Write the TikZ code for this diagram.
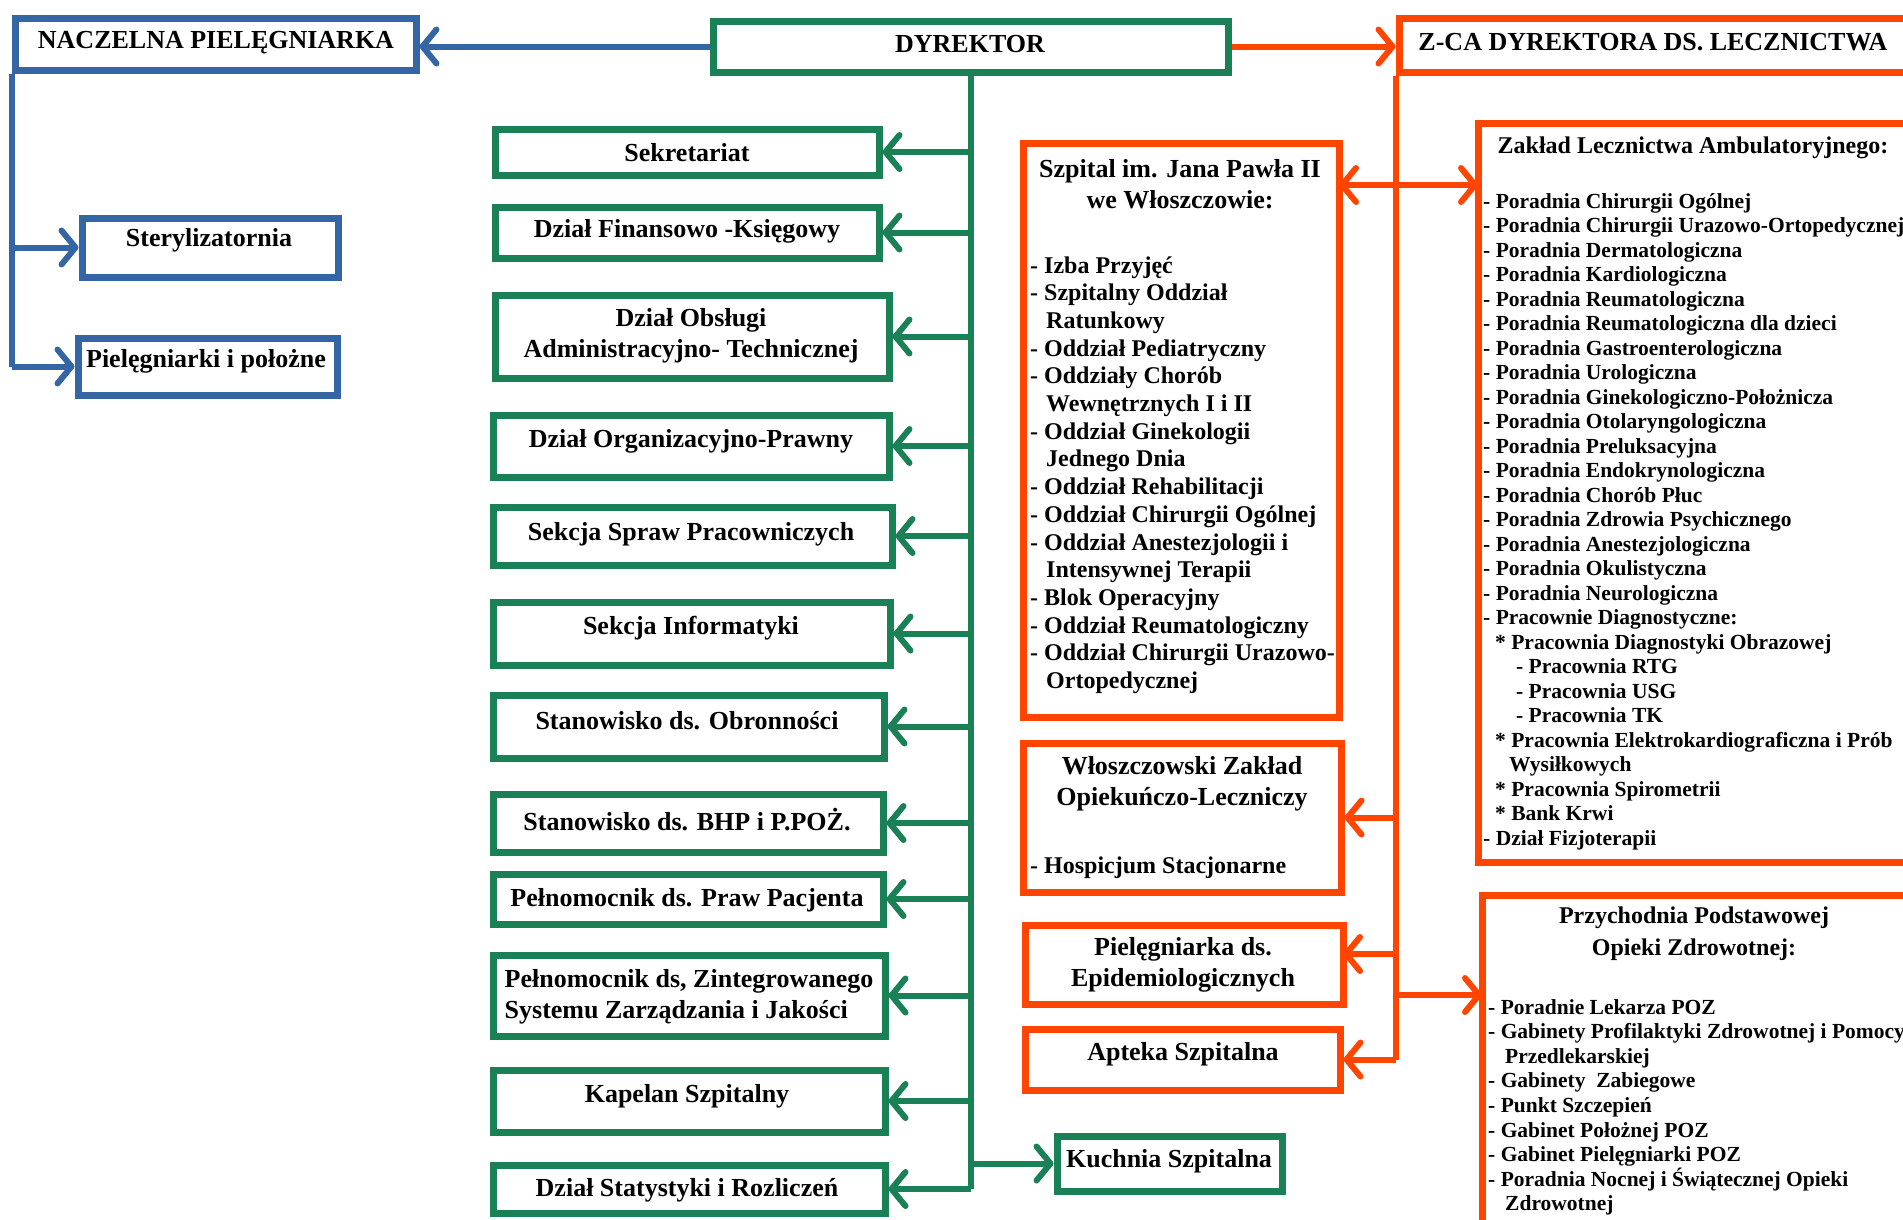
\documentclass[tikz,border=0pt]{standalone}
\usepackage{fontspec}
\setmainfont{Liberation Serif}
\usetikzlibrary{arrows.meta,fit}
\definecolor{bl}{HTML}{3465A4}
\definecolor{gr}{HTML}{1A8055}
\definecolor{og}{HTML}{FF4500}
\begin{document}
\begin{tikzpicture}[x=1pt,y=-1pt,
  box/.style={draw, line width=7pt, inner sep=0pt, rectangle},
  bbox/.style={box, draw=bl},
  gbox/.style={box, draw=gr},
  obox/.style={box, draw=og},
  lbl/.style={font=\bfseries\fontsize{26}{31}\selectfont, align=center, inner sep=0pt, yshift=-2.5pt},
  lbs/.style={font=\bfseries\fontsize{24}{32}\selectfont, align=center, inner sep=0pt, yshift=-2pt},
  itm/.style={font=\bfseries\fontsize{24}{28}\selectfont, inner sep=0pt, anchor=base west},
  itz/.style={font=\bfseries\fontsize{21.5}{24}\selectfont, inner sep=0pt, anchor=base west},
  bconn/.style={draw=bl, line width=6pt},
  gconn/.style={draw=gr, line width=6pt},
  oconn/.style={draw=og, line width=6pt},
  tip/.style={-{Straight Barb[length=14pt,width=34pt,round]}},
  tipboth/.style={{Straight Barb[length=14pt,width=34pt,round]}-{Straight Barb[length=14pt,width=34pt,round]}}
]
\useasboundingbox (0,0) rectangle (1903,1219);
\clip (0,0) rectangle (1903,1219);
\fill[white] (0,0) rectangle (1903,1219);

% ---------- boxes ----------
\node[bbox, fit={(15,18) (416,70)}] (nacz) {};
\node[bbox, fit={(82,218) (338,277)}] (ster) {};
\node[bbox, fit={(78,338) (337,395)}] (piel) {};

\node[gbox, fit={(713,21) (1228,72)}] (dyr) {};
\node[gbox, fit={(495,129) (879,175)}] (sek) {};
\node[gbox, fit={(495,207) (879,258)}] (fin) {};
\node[gbox, fit={(495,295) (889,378)}] (obs) {};
\node[gbox, fit={(493,415) (889,477)}] (org) {};
\node[gbox, fit={(493,507) (892,565)}] (spr) {};
\node[gbox, fit={(493,602) (890,665)}] (inf) {};
\node[gbox, fit={(493,695) (884,758)}] (obr) {};
\node[gbox, fit={(493,794) (883,852)}] (bhp) {};
\node[gbox, fit={(493,874) (883,924)}] (pac) {};
\node[gbox, fit={(493,955) (885,1036)}] (zin) {};
\node[gbox, fit={(493,1070) (885,1132)}] (kap) {};
\node[gbox, fit={(493,1165) (885,1213)}] (sta) {};
\node[gbox, fit={(1057,1136) (1282,1191)}] (kuch) {};

\node[obox, fit={(1399,18) (1930,72)}] (zca) {};
\node[obox, fit={(1023,143) (1339,717)}] (szp) {};
\node[obox, fit={(1478,123) (1930,862)}] (zak) {};
\node[obox, fit={(1023,743) (1341,892)}] (wlo) {};
\node[obox, fit={(1025,925) (1343,1004)}] (epi) {};
\node[obox, fit={(1025,1029) (1340,1090)}] (apt) {};
\node[obox, fit={(1482,895) (1930,1260)}] (prz) {};

% ---------- labels ----------
\node[lbl] (tnacz) at (216,40) {NACZELNA PIELĘGNIARKA};
\node[lbl] (tster) at (209,238) {Sterylizatornia};
\node[lbl] (tpiel) at (206,359) {Pielęgniarki i położne};
\node[lbl] (tdyr) at (970,42) {DYREKTOR};
\node[lbl] (tzca) at (1653,40) {Z-CA DYREKTORA DS. LECZNICTWA};

\node[lbl] (tsek) at (687,150) {Sekretariat};
\node[lbl] (tfin) at (687,229) {Dział Finansowo -Księgowy};
\node[lbl] (tobs) at (691,333) {Dział Obsługi\\Administracyjno- Technicznej};
\node[lbl] (torg) at (691,439) {Dział Organizacyjno-Prawny};
\node[lbl] (tspr) at (691,532) {Sekcja Spraw Pracowniczych};
\node[lbl] (tinf) at (691,626) {Sekcja Informatyki};
\node[lbl] (tobr) at (687,718) {Stanowisko ds. Obronności};
\node[lbl] (tbhp) at (687,817) {Stanowisko ds. BHP i P.POŻ.};
\node[lbl] (tpac) at (687,898) {Pełnomocnik ds. Praw Pacjenta};
\node[lbl, align=left] (tzin) at (689,994) {Pełnomocnik ds, Zintegrowanego\\Systemu Zarządzania i Jakości};
\node[lbl] (tkap) at (687,1094) {Kapelan Szpitalny};
\node[lbl] (tsta) at (687,1188) {Dział Statystyki i Rozliczeń};
\node[lbl] (tkuch) at (1169,1159) {Kuchnia Szpitalna};

\node[lbl] (tszp) at (1180,182) {Szpital im. Jana Pawła II\\we Włoszczowie:};
\node[lbl] (twlo) at (1182,781) {Włoszczowski Zakład\\Opiekuńczo-Leczniczy};
\node[itm] (thos) at (1030,873) {- Hospicjum Stacjonarne};
\node[lbl] (tepi) at (1183,962) {Pielęgniarka ds.\\Epidemiologicznych};
\node[lbl] (tapt) at (1183,1052) {Apteka Szpitalna};
\node[lbs] (tzak) at (1693,146) {Zakład Lecznictwa Ambulatoryjnego:};
\node[lbs] (tprz) at (1694,932) {Przychodnia Podstawowej\\Opieki Zdrowotnej:};

% ---------- lists ----------
\foreach \t [count=\i] in {{- Izba Przyjęć},{- Szpitalny Oddział},{\hspace*{16pt}Ratunkowy},{- Oddział Pediatryczny},{- Oddziały Chorób},{\hspace*{16pt}Wewnętrznych I i II},{- Oddział Ginekologii},{\hspace*{16pt}Jednego Dnia},{- Oddział Rehabilitacji},{- Oddział Chirurgii Ogólnej},{- Oddział Anestezjologii i},{\hspace*{16pt}Intensywnej Terapii},{- Blok Operacyjny},{- Oddział Reumatologiczny},{- Oddział Chirurgii Urazowo-},{\hspace*{16pt}Ortopedycznej}}
  \node[itm] (sz\i) at (1030,{273+27.7*(\i-1)}) {\t};

\foreach \t [count=\i] in {{- Poradnia Chirurgii Ogólnej},{- Poradnia Chirurgii Urazowo-Ortopedycznej},{- Poradnia Dermatologiczna},{- Poradnia Kardiologiczna},{- Poradnia Reumatologiczna},{- Poradnia Reumatologiczna dla dzieci},{- Poradnia Gastroenterologiczna},{- Poradnia Urologiczna},{- Poradnia Ginekologiczno-Położnicza},{- Poradnia Otolaryngologiczna},{- Poradnia Preluksacyjna},{- Poradnia Endokrynologiczna},{- Poradnia Chorób Płuc},{- Poradnia Zdrowia Psychicznego},{- Poradnia Anestezjologiczna},{- Poradnia Okulistyczna},{- Poradnia Neurologiczna},{- Pracownie Diagnostyczne:},{\hspace*{12pt}* Pracownia Diagnostyki Obrazowej},{\hspace*{33pt}- Pracownia RTG},{\hspace*{33pt}- Pracownia USG},{\hspace*{33pt}- Pracownia TK},{\hspace*{12pt}* Pracownia Elektrokardiograficzna i Prób},{\hspace*{26pt}Wysiłkowych},{\hspace*{12pt}* Pracownia Spirometrii},{\hspace*{12pt}* Bank Krwi},{- Dział Fizjoterapii}}
  \node[itz] (zk\i) at (1483,{208+24.5*(\i-1)}) {\t};

\foreach \t [count=\i] in {{- Poradnie Lekarza POZ},{- Gabinety Profilaktyki Zdrowotnej i Pomocy},{\hspace*{17pt}Przedlekarskiej},{- Gabinety\ \ Zabiegowe},{- Punkt Szczepień},{- Gabinet Położnej POZ},{- Gabinet Pielęgniarki POZ},{- Poradnia Nocnej i Świątecznej Opieki},{\hspace*{17pt}Zdrowotnej}}
  \node[itz] (pz\i) at (1488,{1014+24.6*(\i-1)}) {\t};

% ---------- connectors ----------
\draw[bconn,tip] (dyr.west) -- (dyr.west -| nacz.east);
\draw[oconn,tip] (dyr.east) -- (dyr.east -| zca.west);

\draw[bconn] (nacz.south west) -- (nacz.south west |- piel.west);
\draw[bconn,tip] (nacz.south west |- ster.west) -- (ster.west);
\draw[bconn,tip] (nacz.south west |- piel.west) -- (piel.west);

\draw[gconn] (dyr.south) -- (dyr.south |- sta.east);
\foreach \b in {sek,fin,obs,org,spr,inf,obr,bhp,pac,zin,kap,sta}
  \draw[gconn,tip] (dyr.south |- \b.east) -- (\b.east);
\draw[gconn,tip] (dyr.south |- kuch.west) -- (kuch.west);

\coordinate (szIn) at (1339,185);
\coordinate (zkIn) at (1478,185);
\coordinate (przIn) at (1482,995);
\coordinate (epiIn) at (1343,954);
\draw[oconn] (zca.south west) -- (zca.south west |- apt.east);
\draw[oconn,tipboth] (szIn) -- (zkIn);
\draw[oconn,tip] (zca.south west |- wlo.east) -- (wlo.east);
\draw[oconn,tip] (zca.south west |- epiIn) -- (epiIn);
\draw[oconn,tip] (zca.south west |- apt.east) -- (apt.east);
\draw[oconn,tip] (zca.south west |- przIn) -- (przIn);
\end{tikzpicture}
\end{document}
